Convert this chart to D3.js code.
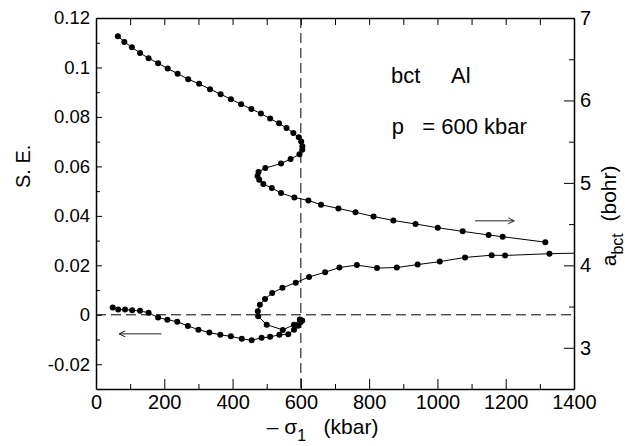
<!DOCTYPE html>
<html>
<head>
<meta charset="utf-8">
<script src="https://cdn.jsdelivr.net/npm/d3@7"></script>
<style>
  body { margin: 0; background: #fff; }
  text { font-family: "Liberation Sans", Arial, sans-serif; fill: #000; }
</style>
</head>
<body>
<div id="chart"></div>
<script>
// lattice parameter a_bct (right axis) vs -sigma1
const latX = [64, 83, 105, 129, 154, 182, 210, 239, 270, 302, 334, 365, 395, 425, 455, 483, 510, 536, 558, 578, 594, 601, 604.5, 604, 596, 570, 542, 496, 476, 473, 478, 490, 515, 542, 581, 622, 659, 710, 760, 813, 871, 936, 1001, 1074, 1150, 1191, 1316];
const latY = [6.78, 6.71, 6.645, 6.576, 6.512, 6.451, 6.386, 6.325, 6.258, 6.201, 6.136, 6.076, 6.015, 5.955, 5.895, 5.841, 5.78, 5.722, 5.665, 5.605, 5.553, 5.502, 5.444, 5.401, 5.347, 5.289, 5.235, 5.18, 5.132, 5.083, 5.038, 4.986, 4.937, 4.877, 4.823, 4.787, 4.735, 4.69, 4.644, 4.592, 4.544, 4.501, 4.456, 4.412, 4.368, 4.347, 4.281];

// strain energy S.E. (left axis) vs -sigma1
const seX = [49, 65, 85, 106, 129, 154, 182, 209, 238, 269, 300, 332, 364, 395, 427, 456, 485, 510, 537, 563, 580, 592, 599, 604, 597, 580, 547, 500, 475, 474, 480, 495, 516, 546, 585, 624, 671, 713, 764, 823, 881, 942, 1007, 1081, 1159, 1198, 1328, 1500];
const seY = [0.003, 0.0021, 0.0021, 0.0018, 0.0016, 0.0008, -0.0011, -0.002, -0.0028, -0.0045, -0.006, -0.0072, -0.0081, -0.0087, -0.0097, -0.0103, -0.0093, -0.0089, -0.0081, -0.0079, -0.006, -0.0044, -0.003, -0.0023, -0.0019, -0.004, -0.0061, -0.004, -0.0006, 0.0014, 0.0041, 0.0064, 0.0088, 0.0109, 0.013, 0.0153, 0.0172, 0.0191, 0.0201, 0.0189, 0.0191, 0.0203, 0.0215, 0.0232, 0.0241, 0.024, 0.0247, 0.0252];

const xTicks = [0, 200, 400, 600, 800, 1000, 1200, 1400];
const seTicks = [-0.02, 0, 0.02, 0.04, 0.06, 0.08, 0.1, 0.12];
const aTicks = [3, 4, 5, 6, 7];

const size = {width: 625, height: 446};
const margin = {top: 18, right: 51, bottom: 57, left: 96};
const width = size.width - margin.left - margin.right;
const height = size.height - margin.top - margin.bottom;

const svg = d3.select("#chart").append("svg")
    .attr("width", size.width)
    .attr("height", size.height);

const g = svg.append("g")
    .attr("transform", "translate(" + margin.left + "," + margin.top + ")");

const xScale = d3.scaleLinear().domain([0, 1400]).range([0, width]);
const seScale = d3.scaleLinear().domain([-0.03, 0.12]).range([height, 0]);
const aScale = d3.scaleLinear().domain([2.5, 7]).range([height, 0]);

g.append("clipPath").attr("id", "clip")
    .append("rect").attr("width", width).attr("height", height);

// dashed reference lines
g.append("line")
    .attr("x1", 0).attr("x2", width)
    .attr("y1", seScale(0)).attr("y2", seScale(0))
    .attr("stroke", "#000").attr("stroke-width", 1)
    .attr("stroke-dasharray", "10,5");
g.append("line")
    .attr("x1", xScale(600)).attr("x2", xScale(600))
    .attr("y1", 0).attr("y2", height)
    .attr("stroke", "#000").attr("stroke-width", 1)
    .attr("stroke-dasharray", "10,5");

// axes
const fmtSE = d => d === 0 ? "0" : String(+d.toFixed(2));

function styleAxis(fs) {
    return sel => {
        sel.select(".domain").attr("stroke-width", 1.5);
        sel.selectAll(".tick line").attr("stroke-width", 1);
        sel.selectAll("text").attr("font-size", fs).attr("fill", "#000")
            .style("font-family", "'Liberation Sans', Arial, sans-serif");
    };
}

g.append("g").attr("transform", "translate(0," + height + ")")
    .call(d3.axisBottom(xScale).tickValues(d3.range(100, 1400, 200)).tickSize(-5).tickFormat(""))
    .call(s => s.select(".domain").remove());
g.append("g").attr("transform", "translate(0," + height + ")")
    .call(d3.axisBottom(xScale).tickValues(xTicks).tickSize(-10).tickSizeOuter(0).tickPadding(6).tickFormat(d => String(d)))
    .call(styleAxis(20));

g.append("g")
    .call(d3.axisTop(xScale).tickValues(d3.range(0, 1401, 100)).tickSize(-7).tickSizeOuter(0).tickFormat(""))
    .call(styleAxis(20));

g.append("g")
    .call(d3.axisLeft(seScale).tickValues([-0.01, 0.01, 0.03, 0.05, 0.07, 0.09, 0.11]).tickSize(-4).tickFormat(""))
    .call(s => s.select(".domain").remove());
g.append("g")
    .call(d3.axisLeft(seScale).tickValues(seTicks).tickSize(-6).tickSizeOuter(0).tickPadding(6).tickFormat(fmtSE))
    .call(styleAxis(18.5));

g.append("g").attr("transform", "translate(" + width + ",0)")
    .call(d3.axisRight(aScale).tickValues([3.5, 4.5, 5.5, 6.5]).tickSize(-5).tickFormat(""))
    .call(s => s.select(".domain").remove());
g.append("g").attr("transform", "translate(" + width + ",0)")
    .call(d3.axisRight(aScale).tickValues(aTicks).tickSize(-10).tickSizeOuter(0).tickPadding(6).tickFormat(d => String(d)))
    .call(styleAxis(20));

// curves
const latData = latX.map((x, i) => ({x: x, y: latY[i]}));
const seData = seX.map((x, i) => ({x: x, y: seY[i]}));

const plot = g.append("g").attr("clip-path", "url(#clip)");

plot.append("path")
    .datum(latData)
    .attr("fill", "none").attr("stroke", "#000").attr("stroke-width", 1)
    .attr("d", d3.line().x(d => xScale(d.x)).y(d => aScale(d.y)));
plot.selectAll(".latDot")
    .data(latData)
    .join("circle")
    .attr("class", "latDot")
    .attr("cx", d => xScale(d.x)).attr("cy", d => aScale(d.y))
    .attr("r", 3).attr("fill", "#000");

plot.append("path")
    .datum(seData)
    .attr("fill", "none").attr("stroke", "#000").attr("stroke-width", 1)
    .attr("d", d3.line().x(d => xScale(d.x)).y(d => seScale(d.y)));
plot.selectAll(".seDot")
    .data(seData.filter(d => d.x <= 1400))
    .join("circle")
    .attr("class", "seDot")
    .attr("cx", d => xScale(d.x)).attr("cy", d => seScale(d.y))
    .attr("r", 3).attr("fill", "#000");

// arrows pointing to each curve's axis
function arrow(x1, x2, y) {
    const dir = x2 > x1 ? -1 : 1;
    const ag = g.append("g").attr("stroke", "#222").attr("stroke-width", 1).attr("fill", "none");
    ag.append("line").attr("x1", x1).attr("x2", x2).attr("y1", y).attr("y2", y);
    ag.append("polyline")
        .attr("points", (x2 + dir * 6) + "," + (y - 3) + " " + x2 + "," + y + " " + (x2 + dir * 6) + "," + (y + 3));
}
arrow(xScale(1110), xScale(1225), aScale(4.54));
arrow(xScale(192), xScale(68), seScale(-0.0077));

// labels inside the frame
const t1 = g.append("text")
    .attr("x", xScale(864)).attr("y", aScale(6.21))
    .attr("font-size", 22);
t1.append("tspan").text("bct");
t1.append("tspan").attr("x", xScale(1040)).text("Al");
g.append("text")
    .attr("x", xScale(866)).attr("y", aScale(5.595))
    .attr("font-size", 22)
    .attr("xml:space", "preserve")
    .text("p   = 600 kbar");

// axis titles
svg.append("text")
    .attr("transform", "translate(30," + (margin.top + seScale(0.06)) + ") rotate(-90)")
    .attr("text-anchor", "middle").attr("font-size", 20)
    .text("S. E.");

const xl = svg.append("text")
    .attr("x", margin.left + xScale(500)).attr("y", 434)
    .attr("font-size", 21)
    .attr("xml:space", "preserve");
xl.append("tspan").text("\u2013 \u03c3");
xl.append("tspan").attr("font-size", 16).attr("dy", 7).text("1");
xl.append("tspan").attr("dy", -7).text("   (kbar)");

const yl = svg.append("text")
    .attr("transform", "translate(616," + (margin.top + aScale(4.6)) + ") rotate(-90)")
    .attr("text-anchor", "middle").attr("font-size", 21)
    .attr("xml:space", "preserve");
yl.append("tspan").text("a");
yl.append("tspan").attr("font-size", 16).attr("dy", 7).text("bct");
yl.append("tspan").attr("dy", -7).text("  (bohr)");
</script>
</body>
</html>
